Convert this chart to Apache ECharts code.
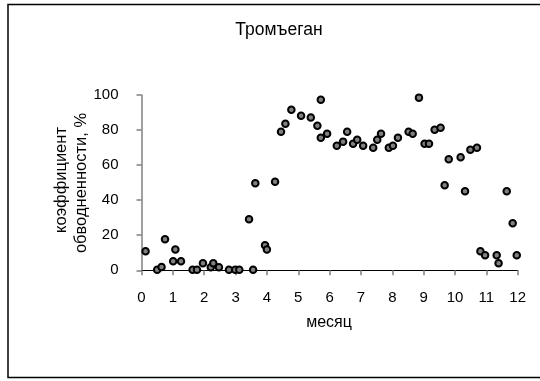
<!DOCTYPE html>
<html>
<head>
<meta charset="utf-8">
<script src="https://cdn.jsdelivr.net/npm/echarts@6/dist/echarts.min.js"></script>
<style>
html,body{margin:0;padding:0;background:#fff;}
#chart{width:540px;height:381px;}
</style>
</head>
<body>
<div id="chart"></div>
<script>
const titleText = "Тромъеган";
const xName = "месяц";
const yNameLine1 = "коэффициент";
const yNameLine2 = "обводненности, %";
const xTicks = [0,1,2,3,4,5,6,7,8,9,10,11,12];
const yTicks = [0,20,40,60,80,100];

const months = [0.13,0.50,0.64,0.75,1.01,1.08,1.26,1.63,1.77,1.96,2.21,2.29,2.47,2.79,2.99,3.12,3.43,3.56,3.63,3.94,4.00,
  4.26,4.45,4.59,4.78,5.09,5.40,5.61,5.72,5.72,5.92,6.23,6.43,6.56,6.75,6.88,7.07,7.39,7.52,7.64,7.89,8.02,8.18,
  8.52,8.65,8.85,9.03,9.17,9.35,9.54,9.67,9.80,10.18,10.32,10.49,10.70,10.81,10.96,11.33,11.39,11.65,11.84,11.97];
const water = [10.8,0.3,1.9,17.7,5.1,11.8,5.1,0.3,0.3,4.0,1.7,4.0,1.7,0.3,0.3,0.3,29.1,0.3,49.6,14.3,11.8,
  50.5,79.1,83.6,91.6,88.2,87.1,82.5,97.3,75.6,77.9,71.1,73.4,79.1,72.2,74.5,71.1,69.9,74.5,77.9,69.9,71.1,75.6,
  79.1,77.9,98.5,72.2,72.2,80.2,81.3,48.5,63.3,64.5,45.1,68.8,69.9,10.8,8.6,8.6,4.0,45.1,26.8,8.6];

const points = months.map((m,i)=>[m, water[i]]);
const font = "Liberation Sans, Arial, sans-serif";
const txt = (text, x, y, size, rot) => ({type:'text', x:x, y:y, rotation:rot||0, silent:true,
  style:{text:text, fontFamily:font, fontSize:size, fill:'#000', textAlign:'center', textVerticalAlign:'middle'}});

const chart = echarts.init(document.getElementById('chart'), null, {renderer:'canvas'});
chart.setOption({
  animation:false,
  backgroundColor:'#fff',
  grid:{left:141.5, right:22.3, top:95, bottom:110.7, containLabel:false},
  xAxis:{type:'value', min:0, max:12, interval:1,
    axisLine:{show:true, lineStyle:{color:'#000', width:1}},
    axisTick:{show:true, inside:false, length:5, lineStyle:{color:'#808080', width:1.5}},
    axisLabel:{fontFamily:font, fontSize:15, color:'#000', margin:20,
      formatter:(v)=> xTicks.includes(v) ? String(v) : ''},
    splitLine:{show:false}},
  yAxis:{type:'value', min:0, max:100, interval:20,
    axisLine:{show:true, lineStyle:{color:'#808080', width:1.5}},
    axisTick:{show:true, inside:false, length:5, lineStyle:{color:'#808080', width:1.5}},
    axisLabel:{fontFamily:font, fontSize:15, color:'#000', margin:23,
      formatter:(v)=> yTicks.includes(v) ? String(v) : ''},
    splitLine:{show:false}},
  graphic:[
    {type:'rect', shape:{x:8, y:4.5, width:560, height:373},
      style:{fill:'none', stroke:'#000', lineWidth:1.5}, silent:true, z:-1},
    txt(titleText, 279, 30.5, 17.5, 0),
    txt(xName, 329, 323, 16, 0),
    txt(yNameLine1, 61, 180, 16.5, Math.PI/2),
    txt(yNameLine2, 81, 183, 16.5, Math.PI/2)
  ],
  series:[{type:'scatter', data:points, symbol:'circle', symbolSize:6.5,
    itemStyle:{color:'#808080', borderColor:'#000', borderWidth:2, opacity:1}}]
});
</script>
</body>
</html>
